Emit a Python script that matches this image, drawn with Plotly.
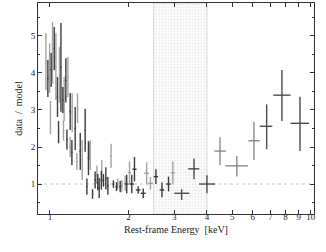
import math
import plotly.graph_objects as go

# ---- data ----
# dark series: energy [keV], half bin width, data/model ratio, 1-sigma error
E_dark = [0.982, 1.011, 1.039, 1.069, 1.079, 1.102, 1.121, 1.151, 1.162, 1.196,
          1.214, 1.250, 1.307, 1.365, 1.386, 1.405, 1.457, 1.491, 1.525, 1.545,
          1.575, 1.604, 1.638, 1.668, 1.752, 1.80, 1.86, 1.97, 2.06, 2.11,
          2.18, 2.28, 2.55, 2.69, 2.85]
dE_dark = [0.005, 0.005, 0.005, 0.006, 0.006, 0.006, 0.006, 0.006, 0.006, 0.007,
           0.007, 0.007, 0.008, 0.008, 0.008, 0.008, 0.009, 0.009, 0.012, 0.012,
           0.012, 0.012, 0.013, 0.013, 0.014, 0.015, 0.016, 0.03, 0.04, 0.04,
           0.045, 0.05, 0.05, 0.055, 0.06]
R_dark = [3.85, 4.08, 4.66, 3.35, 2.40, 4.15, 3.27, 3.80, 2.20, 2.96,
          1.85, 2.50, 1.88, 2.45, 0.93, 1.70, 0.73, 1.11, 1.05, 0.89,
          1.10, 1.10, 1.15, 0.95, 1.00, 0.93, 0.93, 1.00, 1.00, 1.40,
          0.84, 0.75, 1.20, 0.84, 1.00]
eR_dark = [0.50, 0.46, 0.58, 0.54, 0.30, 1.20, 0.35, 0.60, 0.27, 0.50,
           0.34, 0.58, 0.50, 0.58, 0.22, 0.46, 0.13, 0.23, 0.22, 0.27,
           0.25, 0.17, 0.30, 0.24, 0.10, 0.12, 0.15, 0.25, 0.25, 0.33,
           0.10, 0.13, 0.20, 0.20, 0.20]

# light series
E_light = [0.965, 0.997, 1.005, 1.023, 1.054, 1.088, 1.127, 1.134, 1.172, 1.196,
           1.217, 1.269, 1.276, 1.330, 1.418, 1.427, 1.514, 1.580, 1.716, 1.820,
           1.887, 1.943, 2.02, 2.35, 2.43, 2.96]
dE_light = [0.005, 0.005, 0.005, 0.005, 0.006, 0.006, 0.006, 0.006, 0.007, 0.007,
            0.007, 0.008, 0.008, 0.008, 0.009, 0.009, 0.012, 0.012, 0.014, 0.015,
            0.016, 0.02, 0.03, 0.05, 0.05, 0.06]
R_light = [4.30, 4.13, 2.80, 4.55, 4.17, 3.95, 2.45, 3.30, 3.89, 2.00,
           2.93, 1.61, 3.05, 1.65, 1.88, 1.78, 1.25, 1.34, 1.76, 1.00,
           0.95, 1.02, 1.31, 1.29, 1.02, 1.30]
eR_light = [0.77, 0.67, 0.45, 0.83, 0.90, 0.75, 0.27, 0.60, 0.54, 0.27,
            0.53, 0.23, 0.40, 0.54, 0.23, 0.40, 0.25, 0.31, 0.33, 0.15,
            0.16, 0.20, 0.30, 0.30, 0.17, 0.31]

# wide high-energy bins (asymmetric errors)
E_hi_dark = [3.20, 3.57, 4.00, 6.78, 7.76, 9.10]
dE_hi_dark_lo = [0.20, 0.18, 0.27, 0.40, 0.57, 0.73]
dE_hi_dark_up = [0.22, 0.17, 0.30, 0.35, 0.61, 0.76]
R_hi_dark = [0.75, 1.41, 1.00, 2.56, 3.40, 2.64]
eR_hi_dark_lo = [0.18, 0.28, 0.25, 0.62, 0.70, 0.75]
eR_hi_dark_up = [0.11, 0.28, 0.24, 0.59, 0.68, 0.72]

E_hi_light = [4.49, 5.21, 6.06]
dE_hi_light_lo = [0.22, 0.50, 0.29]
dE_hi_light_up = [0.24, 0.53, 0.32]
R_hi_light = [1.89, 1.49, 2.17]
eR_hi_light_lo = [0.38, 0.29, 0.52]
eR_hi_light_up = [0.37, 0.27, 0.51]

band_lo, band_hi = 2.5, 4.0          # excluded energy band [keV]
y_lo, y_hi = 0.19, 5.89              # y-axis range
x_lo, x_hi = 0.9, 10.3               # x-axis range [keV]
xtick_vals = [1, 2, 3, 4, 5, 6, 7, 8, 9, 10]
xtick_text = ["1", "2", "3", "4", "5", "6", "7", "8", "9", "10"]
ytick_vals = [1, 2, 3, 4, 5]
x_title = "Rest-frame Energy  [keV]"
y_title = "data  /  model"

DARK = "#3c3c3c"
LIGHT = "#a2a2a2"
FONT = "Liberation Serif"

fig = go.Figure()

# shaded band
fig.add_trace(go.Scatter(
    x=[band_lo, band_lo, band_hi, band_hi, band_lo],
    y=[y_lo, y_hi, y_hi, y_lo, y_lo],
    mode="lines", fill="toself",
    line=dict(color="#dadada", width=1.2),
    fillcolor="rgba(0,0,0,0)",
    fillpattern=dict(shape=".", fgcolor="#d4d4d4", bgcolor="#fbfbfb", size=3, solidity=0.25),
    hoverinfo="skip", showlegend=False))


def add_err(x, y, ex, ey, color, exm=None, eym=None):
    ex_d = dict(type="data", array=ex, color=color, thickness=1.4, width=0)
    ey_d = dict(type="data", array=ey, color=color, thickness=1.4, width=0)
    if exm is not None:
        ex_d.update(symmetric=False, arrayminus=exm)
    if eym is not None:
        ey_d.update(symmetric=False, arrayminus=eym)
    fig.add_trace(go.Scatter(
        x=x, y=y, mode="markers",
        marker=dict(size=1, color=color),
        error_x=ex_d, error_y=ey_d, showlegend=False))


add_err(E_light, R_light, dE_light, eR_light, LIGHT)
add_err(E_dark, R_dark, dE_dark, eR_dark, DARK)
add_err(E_hi_light, R_hi_light, dE_hi_light_up, eR_hi_light_up, "#8a8a8a",
        dE_hi_light_lo, eR_hi_light_lo)
add_err(E_hi_dark, R_hi_dark, dE_hi_dark_up, eR_hi_dark_up, "#4a4a4a",
        dE_hi_dark_lo, eR_hi_dark_lo)

# unity reference line
fig.add_shape(type="line", xref="paper", yref="y", x0=0, x1=1, y0=1, y1=1,
              line=dict(color="#c4c4c4", width=1, dash="dot"), layer="below")

# x-axis title placed just below the tick labels
fig.add_annotation(text=x_title, xref="paper", yref="paper", x=0.5, y=0,
                   xanchor="center", yanchor="top", yshift=-8, showarrow=False,
                   font=dict(family=FONT, size=10, color="#222"))

fig.update_layout(
    width=326, height=252,
    margin=dict(l=38, r=12, t=3, b=38, autoexpand=False),
    paper_bgcolor="white", plot_bgcolor="white",
    font=dict(family=FONT, size=9, color="#222"),
    showlegend=False,
)
fig.update_xaxes(
    type="log", range=[math.log10(x_lo), math.log10(x_hi)],
    tickvals=xtick_vals, ticktext=xtick_text,
    ticks="inside", ticklen=4, tickwidth=1, tickcolor="#333",
    showline=True, linecolor="#333", linewidth=1, mirror="ticks",
    showgrid=False, zeroline=False, automargin=False,
    ticklabelstandoff=-6,
    tickfont=dict(family=FONT, size=9),
)
fig.update_yaxes(
    range=[y_lo, y_hi], tickvals=ytick_vals,
    ticks="inside", ticklen=4, tickwidth=1, tickcolor="#333",
    minor=dict(dtick=0.5, tick0=0, ticks="inside", ticklen=2, tickcolor="#333"),
    showline=True, linecolor="#333", linewidth=1, mirror="ticks",
    showgrid=False, zeroline=False, automargin=False,
    tickfont=dict(family=FONT, size=9),
    title=dict(text=y_title, font=dict(family=FONT, size=10), standoff=6),
)

fig.write_html("out.html", config={"displayModeBar": False},
               post_script="document.body.style.margin='0';")
